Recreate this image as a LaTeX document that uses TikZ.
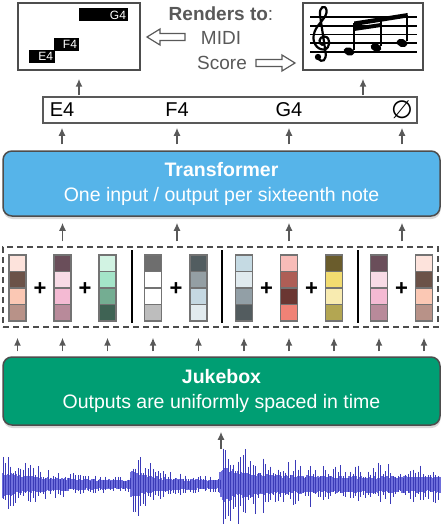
\documentclass[tikz,border=0pt]{standalone}
\usepackage{fontspec}
\setmainfont{Liberation Sans}
\newfontfamily\simbolo{DejaVu Sans}
\usetikzlibrary{arrows.meta,shadows}

% cores das caixas
\definecolor{cinza}{HTML}{595959}
\definecolor{borda}{HTML}{4D4D4D}
\definecolor{azul}{HTML}{56B4E9}
\definecolor{verde}{HTML}{009E73}
\definecolor{onda}{HTML}{3A3AB8}
\definecolor{ondaclara}{HTML}{6E6EDC}
% cores dos vetores (quatro por barra)
\definecolor{c1a}{HTML}{FDE3DC}\definecolor{c1b}{HTML}{6B5248}\definecolor{c1c}{HTML}{FBC8B4}\definecolor{c1d}{HTML}{B89288}
\definecolor{c2a}{HTML}{6A4E5A}\definecolor{c2b}{HTML}{F8DBE6}\definecolor{c2c}{HTML}{F4BAD3}\definecolor{c2d}{HTML}{B88A9A}
\definecolor{c3a}{HTML}{D2F3E3}\definecolor{c3b}{HTML}{A4E4C8}\definecolor{c3c}{HTML}{74AD92}\definecolor{c3d}{HTML}{3F6354}
\definecolor{c4a}{HTML}{6E6E6E}\definecolor{c4b}{HTML}{FFFFFF}\definecolor{c4c}{HTML}{FFFFFF}\definecolor{c4d}{HTML}{BDBDBD}
\definecolor{c5a}{HTML}{525D60}\definecolor{c5b}{HTML}{949FA4}\definecolor{c5c}{HTML}{C5D8E2}\definecolor{c5d}{HTML}{E2EBEF}
\definecolor{c6a}{HTML}{C5DAE3}\definecolor{c6b}{HTML}{E0EAEE}\definecolor{c6c}{HTML}{929FA6}\definecolor{c6d}{HTML}{535C5F}
\definecolor{c7a}{HTML}{F8BCB8}\definecolor{c7b}{HTML}{AE5E56}\definecolor{c7c}{HTML}{6A3632}\definecolor{c7d}{HTML}{F08276}
\definecolor{c8a}{HTML}{6A5C2C}\definecolor{c8b}{HTML}{F2DC70}\definecolor{c8c}{HTML}{F8EBB0}\definecolor{c8d}{HTML}{B3A652}

\begin{document}
\begin{tikzpicture}[x=1pt, y=-1pt,
    % setas cinzentas entre os blocos
    seta/.style={-{Latex[length=8pt,width=7pt]}, line width=1.5pt, draw=cinza},
    % caixas grandes (Transformer, Jukebox)
    caixa/.style={draw=borda, line width=1.5pt, rounded corners=9pt,
        minimum width=437pt, align=center, text=white,
        font=\fontsize{19.5}{25}\selectfont,
        drop shadow={shadow xshift=0.5pt, shadow yshift=-3pt, opacity=0.3}},
    % molduras de MIDI e partitura
    quadro/.style={draw=borda, line width=1.5pt, fill=white, minimum height=67pt},
    nota/.style={fill=black, text=white, font=\fontsize{12}{12}\selectfont,
        minimum height=13pt, inner xsep=2pt, inner ysep=0pt, align=right},
    barra/.style={draw=black!55, line width=1.3pt, minimum width=17pt, minimum height=66pt, inner sep=0pt},
    mais/.style={font=\fontsize{22}{22}\selectfont\bfseries, inner sep=0pt},
    texto/.style={text=cinza, font=\fontsize{19}{22}\selectfont, inner sep=0pt}
]
    \useasboundingbox (0,0) rectangle (442,524);

    % ==========================================
    % 1. SAIDAS: MIDI E PARTITURA
    % ==========================================
    \node[quadro, minimum width=122pt] (midi) at (79,36.5) {};
    \node[nota, text width=22pt] (mE) at (42,56.5) {E4};
    \node[nota, text width=21pt] (mF) at (66.5,44.5) {F4};
    \node[nota, text width=45pt] (mG) at (103.5,15) {G4};

    \node[quadro, minimum width=120pt] (score) at (363,36.5) {};
    % pauta
    \foreach \y in {17,26,34.5,43,52}
        \draw[line width=1.2pt] (310,\y) -- (417,\y);
    % clave de sol (aproximada)
    \draw[line width=2.2pt, line cap=round]
        (318,58) .. controls (322,64) and (327,60) .. (325.5,52)
        -- (320,15)
        .. controls (319,7) and (325,4) .. (326.5,10)
        .. controls (328,17) and (317,24) .. (314.5,32)
        .. controls (311,42) and (317,50) .. (324,49.5)
        .. controls (331,48.5) and (331,37) .. (324.5,36.5)
        .. controls (318.5,36.5) and (318,44) .. (322.5,45);
    \fill (318,57) circle (3.2);
    % cabecas, hastes e barras de ligacao
    \foreach \x/\y in {349/51.5, 376/47.5, 402/43}
        \fill[rotate around={-20:(\x,\y)}] (\x,\y) ellipse (5.5 and 4);
    \draw[line width=1.3pt] (354,50) -- (354,23.5) (381,46) -- (381,19.5) (407,41.5) -- (407,15.5);
    \fill (354,21.5) -- (407.7,13) -- (407.7,17.5) -- (354,26) -- cycle;
    \fill (354,27) -- (381,23) -- (381,27) -- (354,31) -- cycle;

    % legenda central e setas vazadas
    \node[texto] (rend) at (221,14) {\textbf{Renders to}:};
    \node[texto] (tmidi) at (221,38) {MIDI};
    \node[texto] (tscore) at (222,63) {Score};
    \draw[cinza, line width=1.2pt, line join=miter]
        (147,37) -- (160,29) -- (160,33.5) -- (185,33.5) -- (185,40.5) -- (160,40.5) -- (160,45) -- cycle;
    \draw[cinza, line width=1.2pt, line join=miter]
        (295,63) -- (282,55) -- (282,59.5) -- (256,59.5) -- (256,66.5) -- (282,66.5) -- (282,71) -- cycle;

    % ==========================================
    % 2. LINHA DE NOTAS
    % ==========================================
    \node[draw=cinza, line width=1.5pt, minimum width=374pt, minimum height=26pt] (row) at (230,110) {};
    \node[font=\fontsize{20}{20}\selectfont] (nE) at (62,110) {E4};
    \node[font=\fontsize{20}{20}\selectfont] (nF) at (177,110) {F4};
    \node[font=\fontsize{20}{20}\selectfont] (nG) at (289,110) {G4};
    \node[font=\fontsize{25}{25}\selectfont\simbolo] (nR) at (402,110) {∅};

    \draw[seta, shorten <=1pt, shorten >=8pt] (midi.south |- row.north) -- (midi.south);
    \draw[seta, shorten <=1pt, shorten >=8pt] (score.south |- row.north) -- (score.south);

    % ==========================================
    % 3. TRANSFORMER
    % ==========================================
    \node[caixa, fill=azul, minimum height=65pt] (trans) at (221.5,183.5)
        {\textbf{Transformer}\\One input / output per sixteenth note};
    \foreach \n in {nE,nF,nG,nR}
        \draw[seta, shorten <=6pt, shorten >=4pt] (\n |- trans.north) -- (\n |- row.south);

    % ==========================================
    % 4. VETORES DE CORES
    % ==========================================
    \node[draw=borda, dash pattern=on 6pt off 4pt, line width=1.3pt, minimum width=435pt, minimum height=80pt] (vecs) at (220.5,287) {};
    \foreach \k/\xc/\cl in {1/17.5/1, 2/62.5/2, 3/107.5/3, 4/153/4, 5/198.5/5,
                            6/244/6, 7/289/7, 8/334/8, 9/379/2, 10/424/1} {
        \fill[c\cl a] (\xc-8.5,255) rectangle ++(17,16.5);
        \fill[c\cl b] (\xc-8.5,271.5) rectangle ++(17,16.5);
        \fill[c\cl c] (\xc-8.5,288) rectangle ++(17,16.5);
        \fill[c\cl d] (\xc-8.5,304.5) rectangle ++(17,16.5);
        \draw[black!55, line width=1.3pt] (\xc-8.5,271.5) -- ++(17,0) (\xc-8.5,288) -- ++(17,0) (\xc-8.5,304.5) -- ++(17,0);
        \node[barra] (b\k) at (\xc,288) {};
    }
    \foreach \x [count=\i] in {40,85,176,266.5,311.5,401.5}
        \node[mais] (p\i) at (\x,289) {+};
    \foreach \x in {132,222,358}
        \draw[line width=1.5pt] (\x,250) -- (\x,323);

    % grupos -> Transformer
    \foreach \x [count=\i] in {62.5,177,289,402} {
        \coordinate (g\i) at (\x,247);
        \draw[seta, shorten <=5pt, shorten >=6pt] (g\i |- vecs.north) -- (g\i |- trans.south);
    }

    % ==========================================
    % 5. JUKEBOX
    % ==========================================
    \node[caixa, fill=verde, minimum height=68pt] (juke) at (221.5,391)
        {\textbf{Jukebox}\\Outputs are uniformly spaced in time};
    \foreach \k in {1,...,10}
        \draw[seta, shorten <=5pt, shorten >=10pt] (b\k |- juke.north) -- (b\k |- vecs.south);

    % ==========================================
    % 6. FORMA DE ONDA
    % ==========================================
    \coordinate (audio) at (221,455);
    \draw[seta, shorten <=6pt, shorten >=6pt] (audio) -- (audio |- juke.south);
    \pgfmathsetseed{11}
    % faixa central clara
    \foreach \x in {3,4,...,440} {
        \pgfmathsetmacro\amp{4+4*(\x>222)+9*exp(-(\x-3)/40)
            +9*exp(-abs(\x-133)/25)*(\x>=131)
            +10*exp(-abs(\x-222)/30)*(\x>=220)}
        \pgfmathsetmacro\ya{484-\amp*(0.6+0.4*rnd)}
        \pgfmathsetmacro\yb{485+\amp*(0.6+0.4*rnd)}
        \draw[ondaclara, line width=1.1pt] (\x,\ya) -- (\x,\yb);
    }
    % picos escuros
    \foreach \x in {3,5.5,...,440} {
        \pgfmathsetmacro\amp{6+6*(\x>222)+28*exp(-(\x-3)/40)
            +32*exp(-abs(\x-133)/25)*(\x>=131)
            +30*exp(-abs(\x-224)/28)*(\x>=223)
            +10*(\x>222)*rnd}
        \pgfmathsetmacro\ya{484-\amp*(0.35+0.65*rnd)}
        \pgfmathsetmacro\yb{485+\amp*(0.35+0.65*rnd)}
        \draw[onda, line width=0.9pt] (\x,\ya) -- (\x,\yb);
    }

\end{tikzpicture}
\end{document}
